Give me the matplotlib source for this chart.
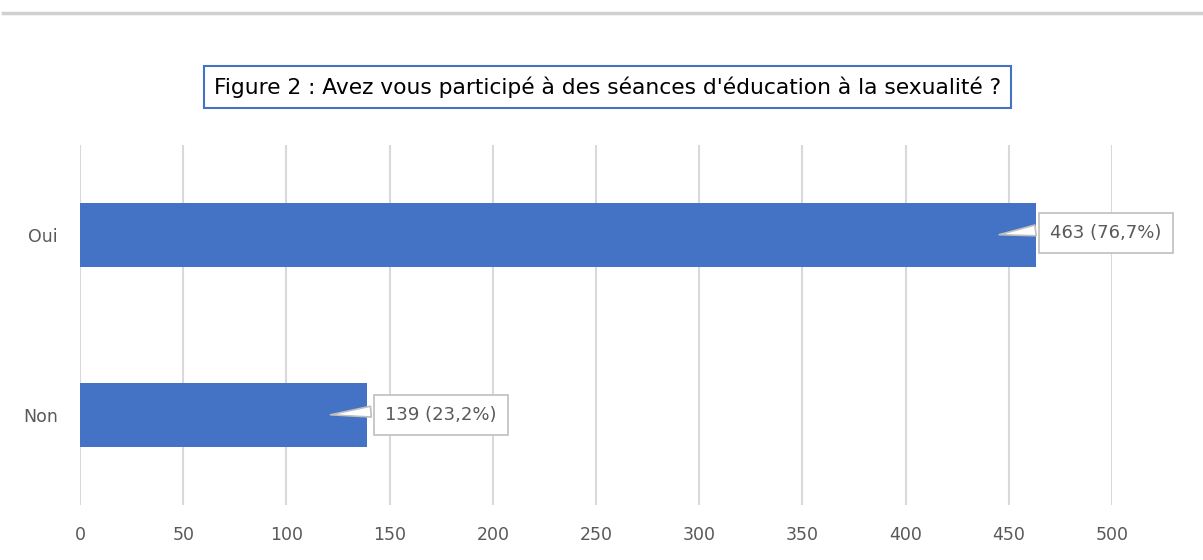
import matplotlib.pyplot as plt
from matplotlib.lines import Line2D

categories = ["Non", "Oui"]
counts = [139, 463]
labels = ["139 (23,2%)", "463 (76,7%)"]
title = "Figure 2 : Avez vous participé à des séances d'éducation à la sexualité ?"

bar_color = "#4472C4"
grey_text = "#595959"
grid_color = "#D9D9D9"

fig = plt.figure(figsize=(12.03, 5.6), dpi=100)
ax = fig.add_axes([80 / 1203, 1 - 505 / 560, (1112 - 80) / 1203, 360 / 560])

ypos = range(len(categories))
ax.barh(ypos, counts, height=0.354, color=bar_color, zorder=2)
ax.set_xlim(0, 500)
ax.set_ylim(-0.5, 1.5)
ax.set_xticks(range(0, 501, 50))
ax.set_yticks(list(ypos))
ax.set_yticklabels(categories)
ax.tick_params(axis="both", length=0, colors=grey_text, labelsize=12.5)
ax.tick_params(axis="x", pad=15)
ax.tick_params(axis="y", pad=16)
ax.grid(axis="x", color=grid_color, linewidth=1.5, zorder=0)
for s in ax.spines.values():
    s.set_visible(False)

# callouts: tip inside the bar, box just right of the bar end
tips = [120, 444]
box_x = [148, 470]
box_dy = [0.0, 0.01]
for i, lab in enumerate(labels):
    ax.annotate(lab, xy=(tips[i], i), xycoords="data",
                xytext=(box_x[i], i + box_dy[i]),
                textcoords="data", ha="left", va="center", fontsize=13, color=grey_text,
                bbox=dict(boxstyle="square,pad=0.62", fc="white", ec="#BFBFBF", lw=1.2),
                arrowprops=dict(arrowstyle="wedge,tail_width=0.6,shrink_factor=0.5",
                                fc="white", ec="#BFBFBF", lw=1.2, relpos=(0.0, 0.75)),
                zorder=3)

# title with box
fig.text(0.505, 1 - 87 / 560, title, ha="center", va="center", fontsize=15.7,
         color="black",
         bbox=dict(boxstyle="square,pad=0.45", fc="white", ec=bar_color, lw=1.5))

# top separator line
fig.add_artist(Line2D([3 / 1203, 1], [1 - 13 / 560, 1 - 13 / 560], color="#D0D0D0", lw=2.5))

fig.savefig("out.png", dpi=100)
